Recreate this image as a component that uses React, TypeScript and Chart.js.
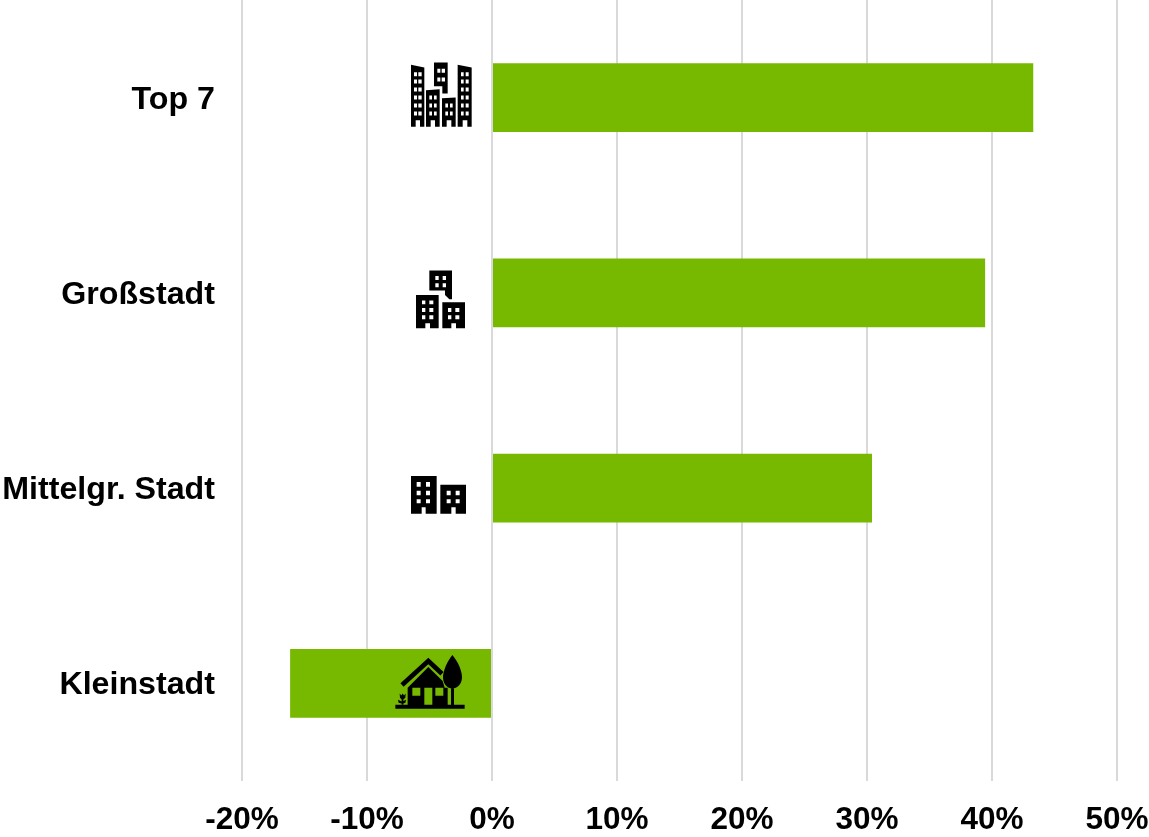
import React, { useEffect, useRef } from "react";
import { Chart, registerables } from "chart.js";

Chart.register(...registerables);

const categories = ["Top 7", "Großstadt", "Mittelgr. Stadt", "Kleinstadt"];
const values = [43.3, 39.45, 30.4, -16.15];
const axisMin = -20;
const axisMax = 50;
const axisStep = 10;

const GREEN = "#76b900";
const GRID = "#d9d9d9";
const FONT = "'Liberation Sans', Arial, sans-serif";

type Rect = [number, number, number, number];

function addRect(p: Path2D, [x0, y0, x1, y1]: Rect) {
  p.rect(x0, y0, x1 - x0, y1 - y0);
}
function addPoly(p: Path2D, pts: number[][]) {
  pts.forEach(([x, y], i) => (i ? p.lineTo(x, y) : p.moveTo(x, y)));
  p.closePath();
}
function building(p: Path2D, outline: number[][], cols: number[][], rows: number[][], door?: Rect) {
  addPoly(p, outline);
  cols.forEach((c) => rows.forEach((r) => addRect(p, [c[0], r[0], c[1], r[1]])));
  if (door) addRect(p, door);
}

function top7Icon(ctx: CanvasRenderingContext2D) {
  const p = new Path2D();
  const six = [[66, 78], [88, 100], [112, 124], [136, 148], [160, 172], [184, 196]];
  building(p, [[63, 44], [103, 52], [103, 230], [90, 230], [90, 210], [77, 210], [77, 230], [63, 230]], [[72, 81], [85, 95]], six);
  building(p, [[132, 37], [173, 37], [173, 130], [157, 130], [157, 108], [132, 108]], [[142, 151], [155, 165]], [[56, 68], [82, 94]]);
  building(p, [[108, 120], [149, 117], [149, 230], [135, 230], [135, 210], [122, 210], [122, 230], [108, 230]], [[118, 126], [132, 140]], six.slice(3));
  building(p, [[156, 144], [197, 142], [197, 230], [184, 230], [184, 210], [170, 210], [170, 230], [156, 230]], [[166, 174], [180, 188]], six.slice(4));
  building(p, [[203, 44], [245, 52], [245, 230], [232, 230], [232, 210], [218, 210], [218, 230], [203, 230]], [[213, 221], [227, 236]], six);
  ctx.fill(p, "evenodd");
}

function grossIcon(ctx: CanvasRenderingContext2D) {
  const p = new Path2D();
  building(p, [[118, 32], [186, 32], [186, 118], [178, 118], [165, 105], [165, 92], [118, 92]], [[136, 146], [158, 168]], [[48, 60], [70, 82]]);
  building(p, [[78, 105], [146, 105], [146, 205], [120, 205], [120, 190], [106, 190], [106, 205], [78, 205]], [[96, 106], [118, 130]], [[122, 133], [144, 156], [166, 178]]);
  building(p, [[157, 127], [225, 127], [225, 205], [198, 205], [198, 190], [184, 190], [184, 205], [157, 205]], [[174, 184], [196, 208]], [[144, 156], [166, 178]]);
  ctx.fill(p, "evenodd");
}

function mittelIcon(ctx: CanvasRenderingContext2D) {
  const p = new Path2D();
  building(p, [[63, 34], [140, 34], [140, 147], [107, 147], [107, 128], [95, 128], [95, 147], [63, 147]], [[80, 92], [108, 120]], [[52, 66], [78, 92], [104, 116]]);
  building(p, [[151, 60], [228, 60], [228, 147], [197, 147], [197, 128], [184, 128], [184, 147], [151, 147]], [[170, 182], [197, 209]], [[78, 92], [104, 116]]);
  ctx.fill(p, "evenodd");
}

function kleinIcon(ctx: CanvasRenderingContext2D) {
  const house = new Path2D();
  addPoly(house, [[83, 130], [145, 68], [188, 110], [194, 130], [203, 130], [203, 183], [83, 183]]);
  addRect(house, [97, 130, 121, 154]);
  addRect(house, [166, 130, 190, 154]);
  addRect(house, [133, 130, 157, 183]);
  ctx.fill(house, "evenodd");

  const ground = new Path2D();
  addRect(ground, [46, 181, 254, 193]);
  ctx.fill(ground);

  ctx.beginPath();
  ctx.moveTo(66, 122);
  ctx.lineTo(145, 50);
  ctx.lineTo(186, 88);
  ctx.lineWidth = 14;
  ctx.strokeStyle = "#000";
  ctx.stroke();

  const tree = new Path2D();
  tree.moveTo(217, 32);
  tree.bezierCurveTo(233, 50, 247, 80, 246, 100);
  tree.bezierCurveTo(245, 120, 232, 132, 217, 132);
  tree.bezierCurveTo(202, 132, 190, 120, 189, 100);
  tree.bezierCurveTo(189, 80, 202, 50, 217, 32);
  tree.closePath();
  addRect(tree, [213, 125, 222, 183]);
  ctx.fill(tree, "nonzero");

  const flower = new Path2D();
  addPoly(flower, [[59, 147], [64, 153], [68, 147], [72, 153], [77, 147], [76, 160], [70, 165], [70, 170], [78, 166], [76, 175], [70, 177], [70, 181], [65, 181], [65, 177], [56, 175], [54, 166], [65, 171], [65, 165], [60, 160]]);
  ctx.fill(flower);
}

const icons: [(c: CanvasRenderingContext2D) => void, number, number, number][] = [
  [top7Icon, 390, 50, 97.5],
  [grossIcon, 390, 260, 293],
  [mittelIcon, 390, 465, 488.5],
  [kleinIcon, 380, 645, 684],
];

const overlay = {
  id: "overlay",
  afterDatasetsDraw(chart: any) {
    const { ctx, scales, chartArea } = chart;
    const zero = scales.x.getPixelForValue(0);
    ctx.save();
    ctx.strokeStyle = GRID;
    ctx.lineWidth = 2;
    ctx.beginPath();
    ctx.moveTo(zero, chartArea.top);
    ctx.lineTo(zero, chartArea.bottom);
    ctx.stroke();
    ctx.restore();

    icons.forEach(([draw, ox, oy, refY], i) => {
      ctx.save();
      ctx.translate(ox + zero - 492, oy + scales.y.getPixelForValue(i) - refY);
      ctx.scale(1 / 3, 1 / 3);
      ctx.fillStyle = "#000";
      draw(ctx);
      ctx.restore();
    });
  },
};

export default function App() {
  const ref = useRef<HTMLCanvasElement>(null);
  useEffect(() => {
    document.body.style.margin = "0";
    document.body.style.background = "#fff";
    const chart = new Chart(ref.current!, {
      type: "bar",
      data: {
        labels: categories,
        datasets: [
          {
            data: values,
            backgroundColor: GREEN,
            borderWidth: 0,
            barPercentage: 0.353,
            categoryPercentage: 1,
          },
        ],
      },
      options: {
        indexAxis: "y",
        responsive: false,
        animation: false,
        layout: { padding: { left: 0, right: 32, top: 0, bottom: 0 } },
        plugins: { legend: { display: false }, tooltip: { enabled: false } },
        scales: {
          x: {
            type: "linear",
            min: axisMin,
            max: axisMax,
            ticks: {
              stepSize: axisStep,
              maxRotation: 0,
              autoSkip: false,
              callback: (v: any) => `${v}%`,
              color: "#000",
              padding: 20,
              font: { family: FONT, size: 31.5, weight: "bold" },
            },
            grid: { color: GRID, lineWidth: 2, drawTicks: false },
            border: { display: false },
            afterFit: (s: any) => {
              s.height = 56;
              s.paddingLeft = 0;
              s.paddingRight = 0;
            },
          },
          y: {
            type: "category",
            ticks: {
              color: "#000",
              padding: 27,
              labelOffset: 2,
              font: { family: FONT, size: 32.2, weight: "bold" },
            },
            grid: { display: false, drawTicks: false },
            border: { display: false },
            afterFit: (s: any) => {
              s.width = 242;
              s.paddingTop = 0;
              s.paddingBottom = 0;
            },
          },
        },
      } as any,
      plugins: [overlay],
    });
    return () => chart.destroy();
  }, []);
  return <canvas ref={ref} width={1149} height={837} style={{ display: "block" }} />;
}
